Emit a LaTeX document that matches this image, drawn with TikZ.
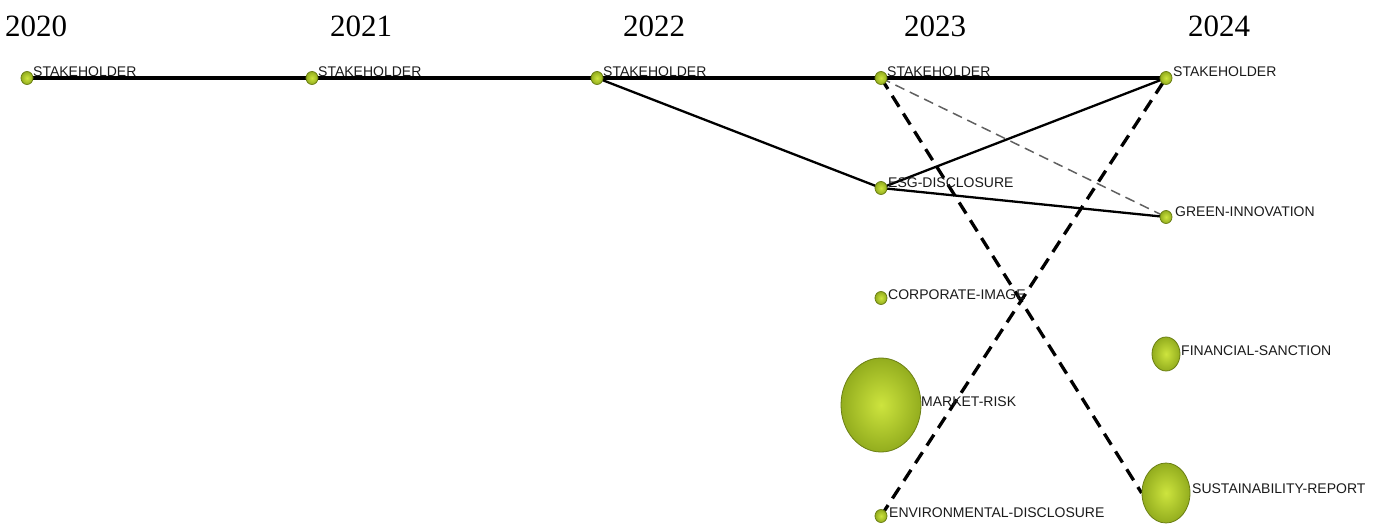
\documentclass[tikz,border=0pt]{standalone}
\usepackage{fontspec}
\setmainfont{Liberation Serif}
\newfontfamily\lblfont{Liberation Sans}
\usetikzlibrary{shapes.geometric}
\pgfdeclarelayer{bg}
\pgfsetlayers{bg,main}
\definecolor{ballin}{HTML}{CDE43E}
\definecolor{ballout}{HTML}{93AD1E}
\definecolor{ballrim}{HTML}{6B7F14}
\definecolor{txt}{HTML}{1A1A1A}
\tikzset{
  kw/.style={ellipse, inner sep=0pt, inner color=ballin, outer color=ballout,
             draw=ballrim, line width=0.8pt, minimum width=12, minimum height=13},
  lbl/.style={font=\lblfont\fontsize{14}{16}\selectfont, text=txt, inner sep=0pt, anchor=west},
  yr/.style={font=\fontsize{31}{34}\selectfont, text=black, inner sep=0pt, anchor=base west},
  evo/.style={line width=3.5pt, black},
  link/.style={line width=2.3pt, black},
  weak/.style={line width=1.5pt, gray!75!black, dash pattern=on 10pt off 6pt},
  strong/.style={line width=3.3pt, black, dash pattern=on 13pt off 8pt},
}
\begin{document}
\begin{tikzpicture}[x=1pt, y=-1pt]
\useasboundingbox (0,0) rectangle (1381,526);

% period headings
\node[yr] (y20) at (5,37) {2020};
\node[yr] (y21) at (330,37) {2021};
\node[yr] (y22) at (623,37) {2022};
\node[yr] (y23) at (904,37) {2023};
\node[yr] (y24) at (1188,37) {2024};

% keyword clusters
\node[kw] (s20) at (27,78) {};
\node[kw] (s21) at (312,78) {};
\node[kw] (s22) at (597,78) {};
\node[kw] (s23) at (881,78) {};
\node[kw] (s24) at (1166,78) {};
\node[kw] (esg) at (881,188) {};
\node[kw] (gi) at (1166,217) {};
\node[kw] (ci) at (881,298) {};
\node[kw, minimum width=80, minimum height=94] (mr) at (881,405) {};
\node[kw] (ed) at (881,516) {};
\node[kw, minimum width=28, minimum height=34] (fs) at (1166,354) {};
\node[kw, minimum width=48, minimum height=60] (sr) at (1166,493) {};

% cluster labels
\node[lbl] (ls20) at (33,72) {STAKEHOLDER};
\node[lbl] (ls21) at (318,72) {STAKEHOLDER};
\node[lbl] (ls22) at (603,72) {STAKEHOLDER};
\node[lbl] (ls23) at (887,72) {STAKEHOLDER};
\node[lbl] (ls24) at (1173,72) {STAKEHOLDER};
\node[lbl] (lesg) at (888,183) {ESG-DISCLOSURE};
\node[lbl] (lgi) at (1175,212) {GREEN-INNOVATION};
\node[lbl] (lci) at (888,295) {CORPORATE-IMAGE};
\node[lbl] (lmr) at (921,402) {MARKET-RISK};
\node[lbl] (led) at (889,513) {ENVIRONMENTAL-DISCLOSURE};
\node[lbl] (lfs) at (1181,351) {FINANCIAL-SANCTION};
\node[lbl] (lsr) at (1192,489) {SUSTAINABILITY-REPORT};

% evolution links
\begin{pgfonlayer}{bg}
\draw[evo] (s20.center) -- (s21.center);
\draw[evo] (s21.center) -- (s22.center);
\draw[evo] (s22.center) -- (s23.center);
\draw[evo] (s23.center) -- (s24.center);
\draw[link] (s22.center) -- (esg.center);
\draw[link] (esg.center) -- (s24.center);
\draw[link] (esg.center) -- (gi.center);
\draw[weak] (s23.center) -- (gi.center);
\draw[strong] (s23.center) -- (sr.west);
\draw[strong] (ed.center) -- (s24.center);
\end{pgfonlayer}
\end{tikzpicture}
\end{document}
